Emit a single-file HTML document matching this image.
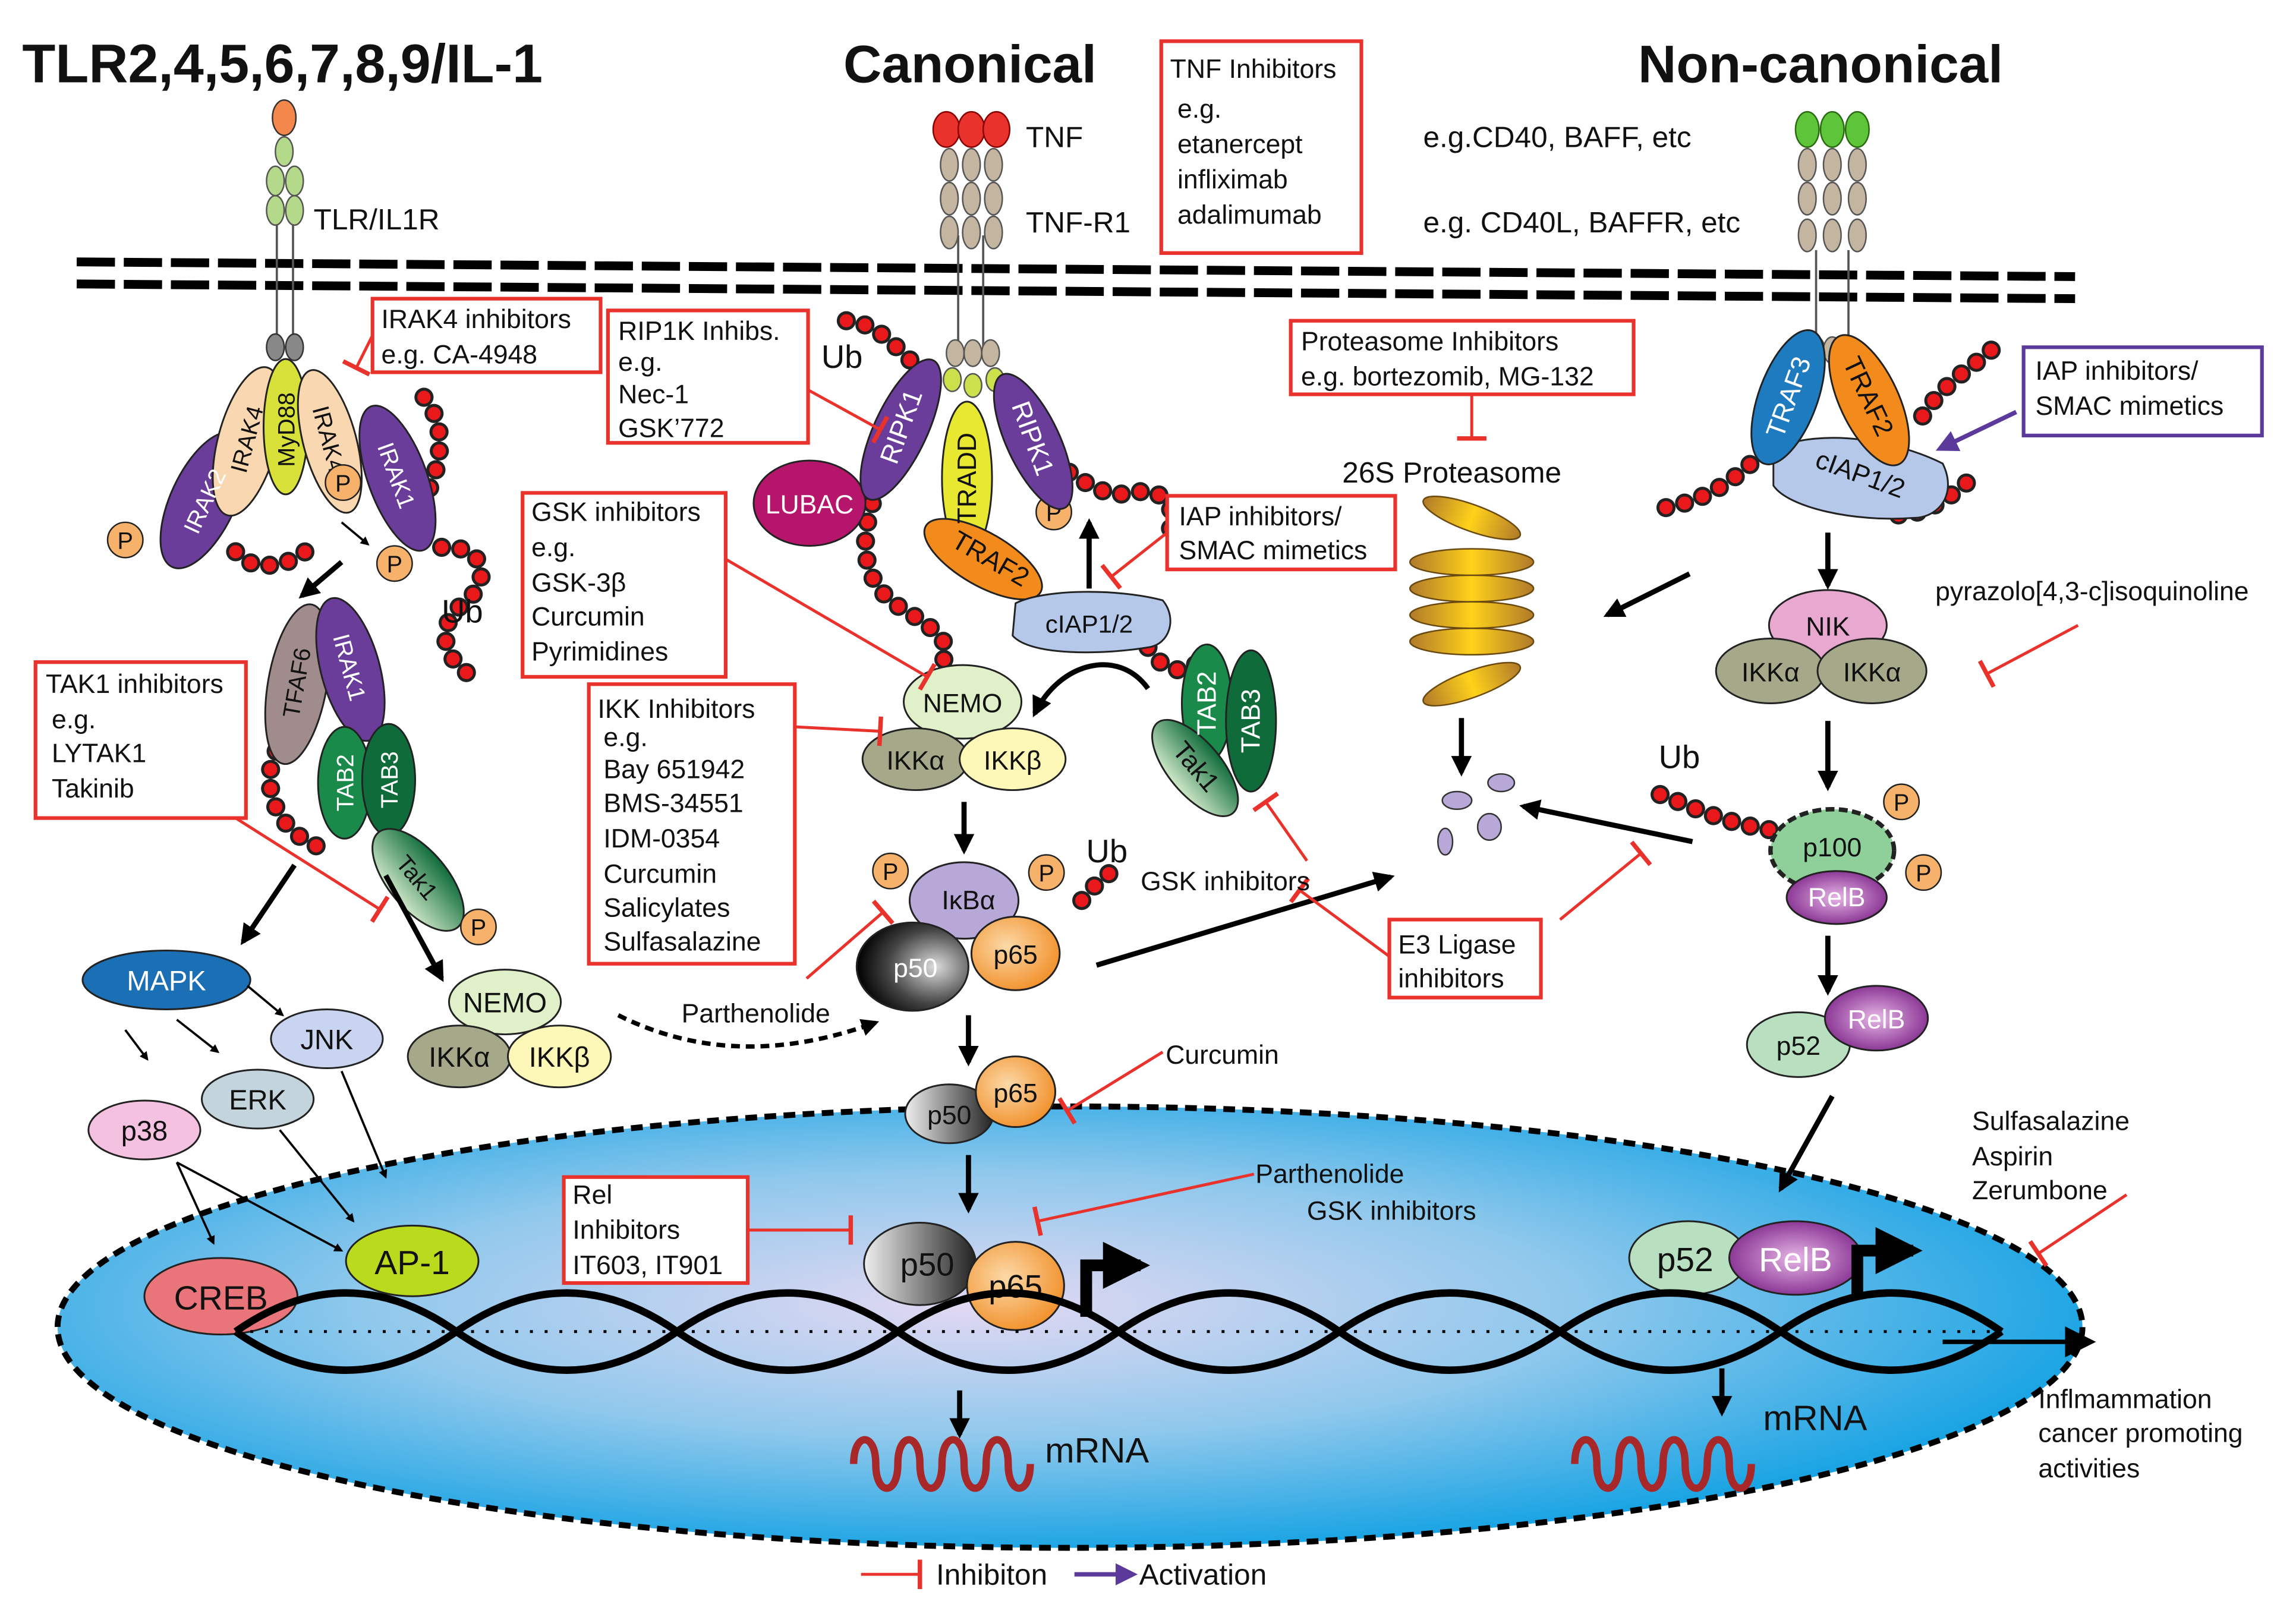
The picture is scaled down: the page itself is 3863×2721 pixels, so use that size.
<!DOCTYPE html>
<html><head><meta charset="utf-8"><style>
html,body{margin:0;padding:0;background:#fff}
svg{display:block}
text{font-family:"Liberation Sans",sans-serif;fill:#111}
</style></head><body>
<svg width="3863" height="2721" viewBox="0 0 1560 1099" xmlns="http://www.w3.org/2000/svg">
<defs>
<radialGradient id="nuc" cx="0.45" cy="0.45" r="0.6">
<stop offset="0" stop-color="#e2d8f2"/><stop offset="0.5" stop-color="#8fc8ec"/><stop offset="1" stop-color="#0a9fe3"/></radialGradient>
<radialGradient id="blk" cx="0.7" cy="0.5" r="0.7"><stop offset="0" stop-color="#ddd"/><stop offset="0.6" stop-color="#444"/><stop offset="1" stop-color="#000"/></radialGradient>
<linearGradient id="gry" x1="0" x2="1"><stop offset="0" stop-color="#eee"/><stop offset="1" stop-color="#222"/></linearGradient>
<radialGradient id="org" cx="0.4" cy="0.4" r="0.7"><stop offset="0" stop-color="#fcd9a8"/><stop offset="1" stop-color="#f08a20"/></radialGradient>
<radialGradient id="pur" cx="0.5" cy="0.5" r="0.6"><stop offset="0" stop-color="#e6b6e6"/><stop offset="1" stop-color="#7a1f86"/></radialGradient>
<linearGradient id="prot" x1="0" x2="1"><stop offset="0" stop-color="#b07a2a"/><stop offset="0.5" stop-color="#ffd21a"/><stop offset="1" stop-color="#b07a2a"/></linearGradient>
<linearGradient id="tak" x1="0" x2="1"><stop offset="0" stop-color="#cfe8c8"/><stop offset="1" stop-color="#0f6b3a"/></linearGradient>
<marker id="ah" viewBox="0 0 10 10" refX="8" refY="5" markerWidth="4" markerHeight="4" orient="auto"><path d="M0,0L10,5L0,10z" fill="#000"/></marker>
<marker id="ahs" viewBox="0 0 10 10" refX="8" refY="5" markerWidth="7" markerHeight="7" orient="auto"><path d="M0,0L10,5L0,10z" fill="#000"/></marker>
<marker id="tb" viewBox="0 0 4 20" refX="2" refY="10" markerWidth="4" markerHeight="10" orient="auto"><path d="M2,0V20" stroke="#e8322b" stroke-width="3"/></marker>
<marker id="ahp" viewBox="0 0 10 10" refX="8" refY="5" markerWidth="5" markerHeight="5" orient="auto"><path d="M0,0L10,5L0,10z" fill="#5b3a9b"/></marker>
</defs>

<!-- titles -->
<text x="15" y="56" font-size="37" font-weight="bold">TLR2,4,5,6,7,8,9/IL-1</text>
<text x="573" y="56" font-size="36" font-weight="bold">Canonical</text>
<text x="1113" y="56" font-size="36" font-weight="bold">Non-canonical</text>

<!-- nucleus -->
<ellipse cx="727" cy="902" rx="688" ry="150" fill="url(#nuc)" stroke="#000" stroke-width="4" stroke-dasharray="8 5"/>

<!-- membrane -->
<g stroke="#000" stroke-width="6" stroke-dasharray="26 6">
<path d="M52,178 L1410,188"/><path d="M52,193 L1410,203"/></g>

<!-- TLR receptor -->
<g stroke="#555" stroke-width="1.5"><path d="M188,150V240M199,150V240"/></g>
<ellipse cx="193" cy="80" rx="8" ry="12" fill="#f4874b" stroke="#333"/>
<g fill="#b5d98a" stroke="#555">
<ellipse cx="193" cy="103" rx="6" ry="10"/><ellipse cx="187" cy="123" rx="6" ry="10"/><ellipse cx="200" cy="123" rx="6" ry="10"/>
<ellipse cx="187" cy="143" rx="6" ry="10"/><ellipse cx="200" cy="143" rx="6" ry="10"/></g>
<g fill="#888" stroke="#333"><ellipse cx="187" cy="236" rx="6" ry="9"/><ellipse cx="200" cy="236" rx="6" ry="9"/></g>
<text x="213" y="156" font-size="20">TLR/IL1R</text>

<!-- TNF receptor -->
<g stroke="#555" stroke-width="1.5"><path d="M651,160V240M668,160V240"/></g>
<g fill="#e8322b" stroke="#800"><ellipse cx="643" cy="88" rx="9" ry="12"/><ellipse cx="660" cy="88" rx="9" ry="12"/><ellipse cx="677" cy="88" rx="9" ry="12"/></g>
<g fill="#c4b5a0" stroke="#555">
<ellipse cx="645" cy="112" rx="6" ry="11"/><ellipse cx="660" cy="112" rx="6" ry="11"/><ellipse cx="675" cy="112" rx="6" ry="11"/>
<ellipse cx="645" cy="135" rx="6" ry="11"/><ellipse cx="660" cy="135" rx="6" ry="11"/><ellipse cx="675" cy="135" rx="6" ry="11"/>
<ellipse cx="645" cy="158" rx="6" ry="11"/><ellipse cx="660" cy="158" rx="6" ry="11"/><ellipse cx="675" cy="158" rx="6" ry="11"/>
<ellipse cx="649" cy="240" rx="6" ry="9"/><ellipse cx="661" cy="240" rx="6" ry="9"/><ellipse cx="673" cy="240" rx="6" ry="9"/></g>
<g fill="#cbe04a" stroke="#555"><ellipse cx="647" cy="258" rx="6" ry="8"/><ellipse cx="661" cy="262" rx="6" ry="8"/><ellipse cx="676" cy="258" rx="6" ry="8"/></g>
<text x="697" y="100" font-size="20">TNF</text>
<text x="697" y="158" font-size="20">TNF-R1</text>

<!-- Noncanonical receptor -->
<g stroke="#555" stroke-width="1.5"><path d="M1234,170V240M1256,170V240"/></g>
<g fill="#5ec43a" stroke="#2a6a10"><ellipse cx="1228" cy="88" rx="8" ry="12"/><ellipse cx="1245" cy="88" rx="8" ry="12"/><ellipse cx="1262" cy="88" rx="8" ry="12"/></g>
<g fill="#c4b5a0" stroke="#555">
<ellipse cx="1228" cy="112" rx="6" ry="11"/><ellipse cx="1245" cy="112" rx="6" ry="11"/><ellipse cx="1262" cy="112" rx="6" ry="11"/>
<ellipse cx="1228" cy="135" rx="6" ry="11"/><ellipse cx="1245" cy="135" rx="6" ry="11"/><ellipse cx="1262" cy="135" rx="6" ry="11"/>
<ellipse cx="1228" cy="160" rx="6" ry="11"/><ellipse cx="1245" cy="160" rx="6" ry="11"/><ellipse cx="1262" cy="160" rx="6" ry="11"/>
<ellipse cx="1234" cy="238" rx="6" ry="9"/><ellipse cx="1245" cy="238" rx="6" ry="9"/><ellipse cx="1256" cy="238" rx="6" ry="9"/></g>
<text x="967" y="100" font-size="20">e.g.CD40, BAFF, etc</text>
<text x="967" y="158" font-size="20">e.g. CD40L, BAFFR, etc</text>

<!-- ubiquitin chains -->
<g fill="none" stroke-linecap="round">
<g stroke="#222" stroke-width="13" stroke-dasharray="0 13">
<path d="M288,270 C305,290 300,320 285,345"/>
<path d="M300,372 C330,370 335,395 315,410 C295,425 300,450 325,462"/>
<path d="M160,375 C170,390 200,385 210,372"/>
<path d="M195,500 C175,520 180,560 215,575"/>
<path d="M575,218 C600,220 610,240 625,250"/>
<path d="M597,330 C585,360 580,395 615,415 C640,430 648,440 640,450"/>
<path d="M715,315 C730,320 745,340 770,335 C790,330 800,345 795,360"/>
<path d="M780,440 C790,455 800,460 815,450"/>
<path d="M735,612 C745,600 750,595 760,590"/>
<path d="M1353,238 C1340,250 1320,260 1305,285"/>
<path d="M1132,345 C1160,340 1180,325 1195,310"/>
<path d="M1290,350 C1310,350 1330,335 1345,320"/>
<path d="M1128,540 C1150,548 1170,560 1210,565"/>
</g>
<g stroke="#e8181b" stroke-width="9" stroke-dasharray="0 13">
<path d="M288,270 C305,290 300,320 285,345"/>
<path d="M300,372 C330,370 335,395 315,410 C295,425 300,450 325,462"/>
<path d="M160,375 C170,390 200,385 210,372"/>
<path d="M195,500 C175,520 180,560 215,575"/>
<path d="M575,218 C600,220 610,240 625,250"/>
<path d="M597,330 C585,360 580,395 615,415 C640,430 648,440 640,450"/>
<path d="M715,315 C730,320 745,340 770,335 C790,330 800,345 795,360"/>
<path d="M780,440 C790,455 800,460 815,450"/>
<path d="M735,612 C745,600 750,595 760,590"/>
<path d="M1353,238 C1340,250 1320,260 1305,285"/>
<path d="M1132,345 C1160,340 1180,325 1195,310"/>
<path d="M1290,350 C1310,350 1330,335 1345,320"/>
<path d="M1128,540 C1150,548 1170,560 1210,565"/>
</g></g>
<text x="300" y="423" font-size="22">Ub</text>
<text x="558" y="250" font-size="22">Ub</text>
<text x="738" y="586" font-size="22">Ub</text>
<text x="1127" y="522" font-size="22">Ub</text>

<!-- Left complex -->
<g stroke="#222" stroke-width="1.2" font-size="16">
<ellipse cx="138" cy="340" rx="22" ry="50" transform="rotate(25 138 340)" fill="#6a3d9a"/>
<ellipse cx="168" cy="300" rx="20" ry="52" transform="rotate(15 168 300)" fill="#f9d7b0"/>
<ellipse cx="194" cy="290" rx="15" ry="46" fill="#d7e13a"/>
<ellipse cx="224" cy="300" rx="18" ry="50" transform="rotate(-15 224 300)" fill="#f9d7b0"/>
<ellipse cx="270" cy="325" rx="20" ry="52" transform="rotate(-20 270 325)" fill="#6a3d9a"/>
<ellipse cx="202" cy="465" rx="20" ry="55" transform="rotate(10 202 465)" fill="#a08c8c"/>
<ellipse cx="238" cy="455" rx="20" ry="50" transform="rotate(-15 238 455)" fill="#6a3d9a"/>
<ellipse cx="234" cy="532" rx="18" ry="38" fill="#1a8a4a"/>
<ellipse cx="264" cy="530" rx="18" ry="38" fill="#0f6b3a"/>
<ellipse cx="284" cy="598" rx="20" ry="42" transform="rotate(-40 284 598)" fill="url(#tak)"/>
</g>
<g font-size="16">
<text transform="translate(144,343) rotate(-65)" style="fill:#fff" text-anchor="middle">IRAK2</text>
<text transform="translate(173,300) rotate(-75)" text-anchor="middle">IRAK4</text>
<text transform="translate(200,292) rotate(-90)" text-anchor="middle">MyD88</text>
<text transform="translate(218,300) rotate(75)" text-anchor="middle">IRAK4</text>
<text transform="translate(264,325) rotate(70)" style="fill:#fff" text-anchor="middle">IRAK1</text>
<text transform="translate(207,465) rotate(-80)" text-anchor="middle">TFAF6</text>
<text transform="translate(232,455) rotate(75)" style="fill:#fff" text-anchor="middle">IRAK1</text>
<text transform="translate(240,532) rotate(-90)" style="fill:#fff" text-anchor="middle">TAB2</text>
<text transform="translate(270,530) rotate(-90)" style="fill:#fff" text-anchor="middle">TAB3</text>
<text transform="translate(279,600) rotate(50)" text-anchor="middle">Tak1</text>
</g>

<!-- P circles -->
<g fill="#f6b26b" stroke="#222"><circle cx="85" cy="367" r="12"/><circle cx="233" cy="328" r="12"/><circle cx="268" cy="383" r="12"/><circle cx="325" cy="630" r="12"/><circle cx="716" cy="348" r="12"/><circle cx="605" cy="592" r="12"/><circle cx="711" cy="593" r="12"/><circle cx="1292" cy="545" r="12"/><circle cx="1307" cy="593" r="12"/></g>
<g font-size="16" text-anchor="middle"><text x="85" y="373">P</text><text x="233" y="334">P</text><text x="268" y="389">P</text><text x="325" y="636">P</text><text x="716" y="354">P</text><text x="605" y="598">P</text><text x="711" y="599">P</text><text x="1292" y="551">P</text><text x="1307" y="599">P</text></g>

<!-- MAPK etc -->
<g stroke="#222" stroke-width="1.2">
<ellipse cx="113" cy="666" rx="57" ry="20" fill="#1a6fb5"/>
<ellipse cx="222" cy="706" rx="38" ry="20" fill="#c8d4f0"/>
<ellipse cx="175" cy="747" rx="38" ry="20" fill="#c3d4dc"/>
<ellipse cx="98" cy="768" rx="38" ry="20" fill="#f4c1e0"/>
<ellipse cx="150" cy="881" rx="52" ry="26" fill="#e9757a"/>
<ellipse cx="280" cy="857" rx="45" ry="24" fill="#bada1e"/>
<ellipse cx="343" cy="681" rx="38" ry="22" fill="#e0f0c8"/>
<ellipse cx="312" cy="718" rx="35" ry="21" fill="#a6a88a"/>
<ellipse cx="380" cy="718" rx="35" ry="21" fill="#fdf7b8"/>
</g>
<g font-size="19" text-anchor="middle">
<text x="113" y="673" style="fill:#fff">MAPK</text><text x="222" y="713">JNK</text><text x="175" y="754">ERK</text><text x="98" y="775">p38</text>
<text x="150" y="890" font-size="23">CREB</text><text x="280" y="866" font-size="23">AP-1</text>
<text x="343" y="688">NEMO</text><text x="312" y="725">IKKα</text><text x="380" y="725">IKKβ</text></g>

<!-- Canonical complex -->
<g stroke="#222" stroke-width="1.2">
<ellipse cx="550" cy="342" rx="38" ry="29" fill="#b5166b"/>
<ellipse cx="612" cy="292" rx="18" ry="52" transform="rotate(25 612 292)" fill="#6a3d9a"/>
<ellipse cx="657" cy="325" rx="17" ry="52" fill="#e8e830"/>
<ellipse cx="702" cy="300" rx="18" ry="50" transform="rotate(-25 702 300)" fill="#6a3d9a"/>
<ellipse cx="668" cy="380" rx="18" ry="45" transform="rotate(-60 668 380)" fill="#f28a1c"/>
<path d="M690,410 C710,400 760,400 790,408 C800,420 795,438 780,440 C750,445 700,446 688,432 Z" fill="#b5c8ea"/>
<ellipse cx="820" cy="478" rx="17" ry="40" fill="#1a8a4a"/>
<ellipse cx="850" cy="490" rx="17" ry="48" fill="#0f6b3a"/>
<ellipse cx="812" cy="522" rx="18" ry="40" transform="rotate(-40 812 522)" fill="url(#tak)"/>
<ellipse cx="654" cy="477" rx="40" ry="25" fill="#e0f0c8"/>
<ellipse cx="622" cy="516" rx="36" ry="21" fill="#a6a88a"/>
<ellipse cx="688" cy="516" rx="36" ry="21" fill="#fdf7b8"/>
<ellipse cx="655" cy="612" rx="37" ry="26" fill="#b8a8d8"/>
<ellipse cx="620" cy="657" rx="38" ry="30" fill="url(#blk)"/>
<ellipse cx="690" cy="648" rx="30" ry="25" fill="url(#org)"/>
<ellipse cx="645" cy="757" rx="30" ry="20" fill="url(#gry)"/>
<ellipse cx="690" cy="742" rx="27" ry="24" fill="url(#org)"/>
<ellipse cx="625" cy="859" rx="38" ry="28" fill="url(#gry)"/>
<ellipse cx="690" cy="874" rx="33" ry="30" fill="url(#org)"/>
</g>
<g font-size="18" text-anchor="middle">
<text x="550" y="349" style="fill:#fff">LUBAC</text>
<text transform="translate(618,292) rotate(-70)" style="fill:#fff">RIPK1</text>
<text transform="translate(663,325) rotate(-90)">TRADD</text>
<text transform="translate(696,300) rotate(70)" style="fill:#fff">RIPK1</text>
<text transform="translate(670,385) rotate(30)">TRAF2</text>
<text x="740" y="430" font-size="17">cIAP1/2</text>
<text transform="translate(826,478) rotate(-90)" style="fill:#fff">TAB2</text>
<text transform="translate(856,490) rotate(-90)" style="fill:#fff">TAB3</text>
<text transform="translate(808,525) rotate(50)">Tak1</text>
<text x="654" y="484">NEMO</text><text x="622" y="523">IKKα</text><text x="688" y="523">IKKβ</text>
<text x="658" y="618">IκBα</text><text x="622" y="664" style="fill:#fff">p50</text><text x="690" y="655">p65</text>
<text x="645" y="764">p50</text><text x="690" y="749">p65</text>
<text x="630" y="867" font-size="22">p50</text><text x="690" y="882" font-size="22">p65</text>
</g>

<!-- proteasome -->
<g stroke="#6a4a10" stroke-width="1" fill="url(#prot)">
<ellipse cx="1000" cy="352" rx="35" ry="9" transform="rotate(20 1000 352)"/>
<ellipse cx="1000" cy="382" rx="42" ry="9"/><ellipse cx="1000" cy="400" rx="42" ry="9"/><ellipse cx="1000" cy="418" rx="42" ry="9"/><ellipse cx="1000" cy="436" rx="42" ry="9"/>
<ellipse cx="1000" cy="465" rx="35" ry="9" transform="rotate(-20 1000 465)"/></g>
<text x="912" y="328" font-size="20">26S Proteasome</text>
<g fill="#b8a8d8" stroke="#333"><ellipse cx="990" cy="544" rx="10" ry="6"/><ellipse cx="1020" cy="532" rx="9" ry="6"/><ellipse cx="982" cy="572" rx="5" ry="9"/><ellipse cx="1012" cy="562" rx="8" ry="9"/></g>

<!-- non canonical complex -->
<g stroke="#222" stroke-width="1.2">
<path d="M1205,305 C1240,290 1290,300 1320,315 C1330,335 1318,352 1300,352 C1260,355 1215,345 1205,330 Z" fill="#b5c8ea"/>
<ellipse cx="1215" cy="270" rx="20" ry="48" transform="rotate(20 1215 270)" fill="#1e7bc0"/>
<ellipse cx="1270" cy="272" rx="20" ry="48" transform="rotate(-25 1270 272)" fill="#f28a1c"/>
<ellipse cx="1242" cy="425" rx="40" ry="24" fill="#e8a8d0"/>
<ellipse cx="1203" cy="456" rx="37" ry="22" fill="#a6a88a"/>
<ellipse cx="1272" cy="456" rx="37" ry="22" fill="#a6a88a"/>
<ellipse cx="1245" cy="578" rx="42" ry="28" fill="#8fcf9a" stroke-dasharray="6 3" stroke-width="3"/>
<ellipse cx="1248" cy="610" rx="34" ry="18" fill="url(#pur)"/>
<ellipse cx="1222" cy="710" rx="35" ry="22" fill="#b8e0c0"/>
<ellipse cx="1275" cy="692" rx="35" ry="22" fill="url(#pur)"/>
<ellipse cx="1147" cy="855" rx="40" ry="25" fill="#b8e0c0"/>
<ellipse cx="1220" cy="855" rx="45" ry="25" fill="url(#pur)"/>
</g>
<g font-size="18" text-anchor="middle">
<text transform="translate(1221,272) rotate(-70)" style="fill:#fff">TRAF3</text>
<text transform="translate(1264,272) rotate(65)">TRAF2</text>
<text transform="translate(1262,328) rotate(20)">cIAP1/2</text>
<text x="1242" y="432">NIK</text><text x="1203" y="463">IKKα</text><text x="1272" y="463">IKKα</text>
<text x="1245" y="582">p100</text><text x="1248" y="616" style="fill:#fff">RelB</text>
<text x="1222" y="717">p52</text><text x="1275" y="699" style="fill:#fff">RelB</text>
<text x="1145" y="864" font-size="23">p52</text><text x="1220" y="864" font-size="23" style="fill:#fff">RelB</text>
</g>

<!-- DNA -->
<g fill="none" stroke="#000" stroke-width="5">
<path d="M160,905 C210,870 260,870 310,905 S410,940 460,905 S560,870 610,905 S710,940 760,905 S860,870 910,905 S1010,940 1060,905 S1160,870 1210,905 S1310,940 1360,905"/>
<path d="M160,905 C210,940 260,940 310,905 S410,870 460,905 S560,940 610,905 S710,870 760,905 S860,940 910,905 S1010,870 1060,905 S1160,940 1210,905 S1310,870 1360,905"/>
</g>
<g stroke="#000" stroke-width="2" stroke-dasharray="2 8"><path d="M170,905H1360"/></g>
<path d="M1320,912 L1420,912" stroke="#000" stroke-width="3" marker-end="url(#ahs)"/>
<!-- gene arrows -->
<path d="M738,895 V860 H775" fill="none" stroke="#000" stroke-width="8" marker-end="url(#ah)"/>
<path d="M1262,880 V850 H1300" fill="none" stroke="#000" stroke-width="8" marker-end="url(#ah)"/>
<!-- mRNA -->
<g fill="none" stroke="#a8282a" stroke-width="5">
<path d="M580,995 c0,-22 15,-22 15,0 s15,22 15,0 s15,-22 15,0 s15,22 15,0 s15,-22 15,0 s15,22 15,0 s15,-22 15,0 s15,22 15,0"/>
<path d="M1070,995 c0,-22 15,-22 15,0 s15,22 15,0 s15,-22 15,0 s15,22 15,0 s15,-22 15,0 s15,22 15,0 s15,-22 15,0 s15,22 15,0"/>
</g>
<text x="710" y="994" font-size="24">mRNA</text>
<text x="1198" y="972" font-size="24">mRNA</text>

<!-- black arrows -->
<g stroke="#000" stroke-width="3.5" fill="none" marker-end="url(#ah)">
<path d="M232,382 L205,405"/>
<path d="M200,588 L165,640"/>
<path d="M262,595 L300,665"/>
<path d="M655,545 V578"/><path d="M658,690 V722"/><path d="M658,785 V822"/><path d="M652,945 V975"/>
<path d="M740,400 V355"/>
<path d="M1148,390 L1092,418"/><path d="M993,488 V525"/><path d="M1150,572 L1035,548"/>
<path d="M745,656 L945,596"/>
<path d="M1242,362 V398"/><path d="M1242,490 V535"/><path d="M1242,636 V674"/>
<path d="M1245,745 L1210,808"/><path d="M1170,930 V960"/>
<path d="M780,468 C760,440 720,450 703,485"/>
</g>
<g stroke="#000" stroke-width="1.5" fill="none" marker-end="url(#ah)">
<path d="M232,355 L250,370"/>
<path d="M168,670 L192,690"/><path d="M120,693 L148,715"/><path d="M85,700 L100,720"/>
<path d="M232,728 L262,800"/><path d="M190,768 L240,830"/><path d="M120,790 L145,845"/><path d="M120,790 L232,850"/>
</g>
<path d="M420,690 C480,720 540,715 595,695" stroke="#000" stroke-width="3" stroke-dasharray="6 4" fill="none" marker-end="url(#ah)"/>

<!-- red inhibition lines -->
<g stroke="#e8322b" stroke-width="2" fill="none" marker-end="url(#tb)">
<path d="M253,228 L242,250"/>
<path d="M549,265 L598,292"/>
<path d="M1000,268 V298"/>
<path d="M493,380 L630,460"/>
<path d="M793,362 L755,392"/>
<path d="M160,556 L258,618"/>
<path d="M540,494 L598,497"/>
<path d="M888,585 L860,545"/>
<path d="M944,650 L883,605"/>
<path d="M1060,625 L1115,580"/>
<path d="M548,665 L600,620"/>
<path d="M790,715 L725,755"/>
<path d="M852,798 L705,830"/>
<path d="M508,836 L578,836"/>
<path d="M1412,425 L1350,458"/>
<path d="M1445,812 L1385,852"/>
</g>
<path d="M1370,280 L1318,305" stroke="#5b3a9b" stroke-width="3" marker-end="url(#ahp)"/>

<!-- red boxes -->
<g fill="#fff" stroke="#e8322b" stroke-width="2.5">
<rect x="789" y="28" width="136" height="144"/>
<rect x="253" y="203" width="155" height="50"/>
<rect x="413" y="211" width="136" height="90"/>
<rect x="877" y="218" width="233" height="50"/>
<rect x="355" y="335" width="138" height="125"/>
<rect x="793" y="337" width="155" height="50"/>
<rect x="24" y="450" width="143" height="106"/>
<rect x="400" y="465" width="140" height="190"/>
<rect x="944" y="625" width="103" height="53"/>
<rect x="383" y="800" width="125" height="72"/>
</g>
<rect x="1375" y="236" width="162" height="60" fill="#fff" stroke="#5b3a9b" stroke-width="2.5"/>

<g font-size="18">
<text x="795" y="53">TNF Inhibitors</text><text x="800" y="80">e.g.</text><text x="800" y="104">etanercept</text><text x="800" y="128">infliximab</text><text x="800" y="152">adalimumab</text>
<text x="259" y="223">IRAK4 inhibitors</text><text x="259" y="247">e.g. CA-4948</text>
<text x="420" y="231">RIP1K Inhibs.</text><text x="420" y="252">e.g.</text><text x="420" y="274">Nec-1</text><text x="420" y="297">GSK’772</text>
<text x="884" y="238">Proteasome Inhibitors</text><text x="884" y="262">e.g. bortezomib, MG-132</text>
<text x="1383" y="258">IAP inhibitors/</text><text x="1383" y="282">SMAC mimetics</text>
<text x="361" y="354">GSK inhibitors</text><text x="361" y="378">e.g.</text><text x="361" y="402">GSK-3β</text><text x="361" y="425">Curcumin</text><text x="361" y="449">Pyrimidines</text>
<text x="801" y="357">IAP inhibitors/</text><text x="801" y="380">SMAC mimetics</text>
<text x="31" y="471">TAK1 inhibitors</text><text x="35" y="495">e.g.</text><text x="35" y="518">LYTAK1</text><text x="35" y="542">Takinib</text>
<text x="406" y="488">IKK Inhibitors</text><text x="410" y="507">e.g.</text><text x="410" y="529">Bay 651942</text><text x="410" y="552">BMS-34551</text><text x="410" y="576">IDM-0354</text><text x="410" y="600">Curcumin</text><text x="410" y="623">Salicylates</text><text x="410" y="646">Sulfasalazine</text>
<text x="950" y="648">E3 Ligase</text><text x="950" y="671">inhibitors</text>
<text x="389" y="818">Rel</text><text x="389" y="842">Inhibitors</text><text x="389" y="866">IT603, IT901</text>
<text x="1315" y="408">pyrazolo[4,3-c]isoquinoline</text>
<text x="775" y="605">GSK inhibitors</text>
<text x="463" y="695">Parthenolide</text>
<text x="792" y="723">Curcumin</text>
<text x="853" y="804">Parthenolide</text><text x="888" y="829">GSK inhibitors</text>
<text x="1340" y="768">Sulfasalazine</text><text x="1340" y="792">Aspirin</text><text x="1340" y="815">Zerumbone</text>
<text x="1385" y="957">Inflmammation</text><text x="1385" y="980">cancer promoting</text><text x="1385" y="1004">activities</text>
</g>

<!-- legend -->
<path d="M585,1070 H625" stroke="#e8322b" stroke-width="2" marker-end="url(#tb)"/>
<text x="636" y="1077" font-size="20">Inhibiton</text>
<path d="M730,1070 H770" stroke="#5b3a9b" stroke-width="3" marker-end="url(#ahp)"/>
<text x="774" y="1077" font-size="20">Activation</text>
</svg>
</body></html>
